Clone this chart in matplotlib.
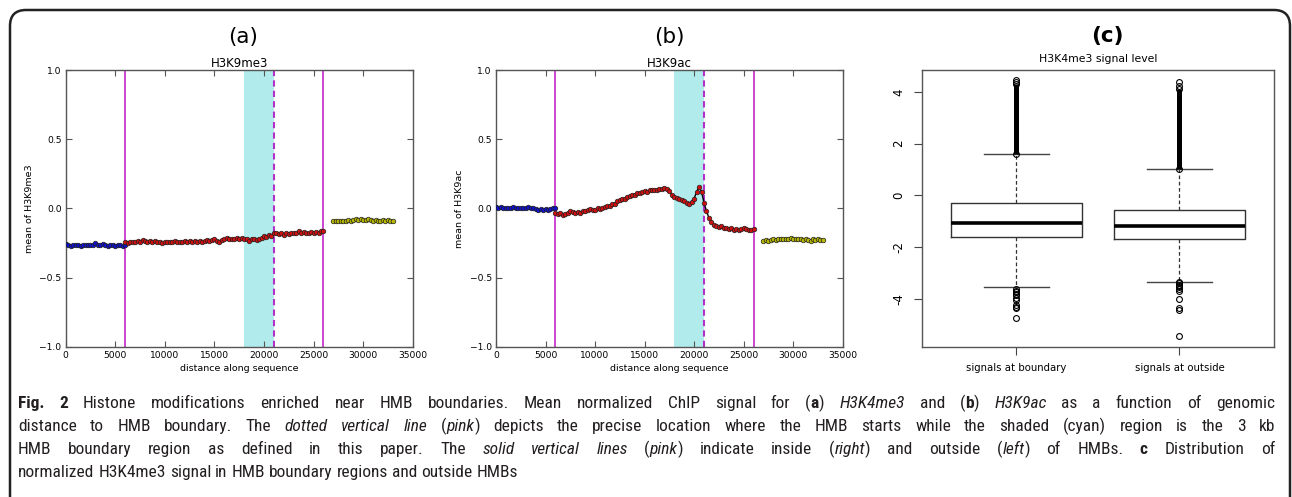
import re
import numpy as np
import matplotlib
matplotlib.use("Agg")
import matplotlib.pyplot as plt
from matplotlib import font_manager as fm
from matplotlib.patches import FancyBboxPatch
from matplotlib.transforms import IdentityTransform

a_blue = [-0.26, -0.265, -0.27, -0.265, -0.268, -0.265, -0.27, -0.265, -0.268, -0.262,
          -0.265, -0.268, -0.252, -0.262, -0.268, -0.26, -0.265, -0.27, -0.265, -0.268,
          -0.27, -0.265, -0.268, -0.272, -0.268]
a_red = [-0.245, -0.25, -0.245, -0.24, -0.245, -0.235, -0.24, -0.23, -0.235, -0.24,
         -0.235, -0.24, -0.235, -0.24, -0.245, -0.25, -0.245, -0.24, -0.245, -0.24,
         -0.235, -0.245, -0.24, -0.245, -0.235, -0.24, -0.235, -0.24, -0.235, -0.24,
         -0.235, -0.24, -0.235, -0.23, -0.235, -0.23, -0.225, -0.235, -0.24, -0.23,
         -0.225, -0.215, -0.225, -0.22, -0.225, -0.215, -0.22, -0.215, -0.22, -0.225,
         -0.235, -0.225, -0.225, -0.23, -0.22, -0.215, -0.20, -0.21, -0.195, -0.20,
         -0.175, -0.18, -0.185, -0.18, -0.19, -0.18, -0.185, -0.175, -0.18, -0.175,
         -0.165, -0.175, -0.17, -0.175, -0.18, -0.17, -0.175, -0.17, -0.175, -0.165,
         -0.165]
a_yel = [-0.095, -0.09, -0.095, -0.09, -0.088, -0.092, -0.085, -0.09, -0.085, -0.08,
         -0.085, -0.08, -0.082, -0.085, -0.08, -0.085, -0.088, -0.085, -0.09, -0.088,
         -0.085, -0.09, -0.085, -0.09, -0.095]

# ---- panel (b) H3K9ac
b_blue = [0.01, 0.005, 0.01, 0.0, 0.005, 0.0, 0.005, 0.01, 0.005, 0.0,
          0.005, 0.0, 0.005, 0.01, 0.005, 0.0, -0.005, -0.01, -0.005, -0.01,
          -0.005, -0.01, -0.005, 0.0, 0.005]
b_red = [-0.035, -0.04, -0.035, -0.045, -0.04, -0.03, -0.02, -0.025, -0.03, -0.025,
         -0.03, -0.02, -0.02, -0.01, -0.005, -0.015, -0.01, 0.0, -0.005, 0.005,
         0.01, 0.02, 0.02, 0.03, 0.035, 0.05, 0.06, 0.07, 0.07, 0.08,
         0.09, 0.095, 0.10, 0.11, 0.11, 0.12, 0.125, 0.12, 0.13, 0.13,
         0.135, 0.13, 0.14, 0.14, 0.145, 0.14, 0.125, 0.10, 0.085, 0.075,
         0.07, 0.06, 0.05, 0.04, 0.035, 0.045, 0.07, 0.12, 0.155, 0.12,
         0.04, -0.02, -0.07, -0.10, -0.12, -0.13, -0.135, -0.13, -0.14, -0.145,
         -0.15, -0.145, -0.155, -0.15, -0.16, -0.15, -0.145, -0.15, -0.155, -0.16,
         -0.15]
b_yel = [-0.235, -0.23, -0.235, -0.23, -0.225, -0.23, -0.225, -0.22, -0.225, -0.22,
         -0.225, -0.215, -0.22, -0.225, -0.22, -0.225, -0.23, -0.225, -0.23, -0.235,
         -0.225, -0.23, -0.225, -0.23, -0.23]

seg_ranges = [(0, 6000), (6000, 26000), (27000, 33000)]
seg_colors = ["#1010c8", "#d01010", "#b8b800"]

# ---- panel (c) box plot summary, H3K4me3 signal level
c_names = ["signals at boundary", "signals at outside"]
c_med = [-1.06, -1.19]
c_q1 = [-1.62, -1.68]
c_q3 = [-0.30, -0.58]
c_whislo = [-3.53, -3.34]
c_whishi = [1.62, 1.04]
# upper outliers are so many that they merge into a solid bar: low/high end of it
c_dense = [(1.62, 4.3), (1.04, 4.12)]
c_out1 = [1.62, 4.3, 4.38, 4.45,
          -3.62, -3.68, -3.74, -3.8, -3.86, -3.95, -4.05, -4.25, -4.3, -4.35, -4.75]
c_out2 = [1.04, 4.12, 4.25, 4.4,
          -3.36, -3.4, -3.45, -3.5, -3.55, -3.6, -3.7, -4.0, -4.35, -4.45, -5.45]

caption = [
    "**Fig. 2** Histone modifications enriched near HMB boundaries. Mean normalized ChIP signal for (**a**) _H3K4me3_ and (**b**) _H3K9ac_ as a function of genomic",
    "distance to HMB boundary. The _dotted vertical line_ (_pink_) depicts the precise location where the HMB starts while the shaded (cyan) region is the 3 kb",
    "HMB boundary region as defined in this paper. The _solid vertical lines_ (_pink_) indicate inside (_right_) and outside (_left_) of HMBs. **c** Distribution of",
    "normalized H3K4me3 signal in HMB boundary regions and outside HMBs",
]

W, H = 1292, 497
fig = plt.figure(figsize=(W / 100, H / 100), dpi=100)
fig.patch.set_facecolor("white")

# rounded frame round the whole figure
frame = FancyBboxPatch((10, -40), 1280, 527, boxstyle="round,pad=0,rounding_size=16",
                       transform=IdentityTransform(), fill=False, ec="#222222", lw=1.8)
fig.patches.append(frame)

MAG = "#cc44d0"


def line_panel(rect, segs, title, ylabel, letter, dx=0):
    ax = fig.add_axes(rect)
    ax.axvspan(18000, 21000, color="#b2ebeb", lw=0, zorder=0)
    for (x0, x1), vals, col in zip(seg_ranges, segs, seg_colors):
        xs = np.linspace(x0, x1, len(vals))
        ax.plot(xs, vals, color="black", lw=1.0, marker="o", ms=3.3, mfc=col,
                mec="#222222", mew=0.5, zorder=3)
    ax.axvline(6000, color=MAG, lw=1.4, zorder=2)
    ax.axvline(26000, color=MAG, lw=1.4, zorder=2)
    ax.axvline(21000, color="#b030c8", lw=1.5, ls=(0, (3, 2)), zorder=2)
    ax.set_xlim(0, 35000)
    ax.set_ylim(-1, 1)
    ax.set_xticks(range(0, 35001, 5000))
    ax.set_yticks([-1.0, -0.5, 0.0, 0.5, 1.0])
    ax.tick_params(direction="in", top=True, right=True, length=4, width=0.8,
                   labelsize=6.6, pad=3, color="#555555")
    for s in ax.spines.values():
        s.set_color("#555555")
        s.set_linewidth(1.0)
    ax.set_title(title, fontsize=8.5, pad=2)
    ax.set_xlabel("distance along sequence", fontsize=6.8, labelpad=3)
    ax.set_ylabel(ylabel, fontsize=6.8, labelpad=4)
    cx = rect[0] + rect[2] / 2 + dx / W
    fig.text(cx, 1 - 37 / H, letter, ha="center", va="center", fontsize=15.5)
    return ax


pa = [65.7 / W, 150.3 / H, 347 / W, 276.7 / H]
pb = [496 / W, 150.3 / H, 346.7 / W, 276.7 / H]
pc = [921.7 / W, 150.3 / H, 352.3 / W, 276.7 / H]

line_panel(pa, [a_blue, a_red, a_yel], "H3K9me3", "mean of H3K9me3", "(a)", dx=4)
line_panel(pb, [b_blue, b_red, b_yel], "H3K9ac", "mean of H3K9ac", "(b)")

# ---- panel (c)
axc = fig.add_axes(pc)
stats = []
for i in range(2):
    stats.append(dict(med=c_med[i], q1=c_q1[i], q3=c_q3[i], whislo=c_whislo[i],
                      whishi=c_whishi[i], fliers=[c_out1, c_out2][i]))
axc.bxp(stats, positions=[1, 2], widths=0.8, capwidths=0.4, showfliers=True,
        boxprops=dict(color="#333333", lw=1.0),
        medianprops=dict(color="black", lw=2.6),
        whiskerprops=dict(color="#333333", lw=0.9, ls=(0, (3, 2))),
        capprops=dict(color="#444444", lw=1.0),
        flierprops=dict(marker="o", ms=4.2, mfc="none", mec="black", mew=0.8))
for pos, (lo, hi) in zip([1, 2], c_dense):
    axc.vlines(pos, lo, hi, color="black", lw=3.6, zorder=3)
axc.set_xlim(0.42, 2.58)
axc.set_ylim(-5.85, 4.85)
axc.set_yticks([-4, -2, 0, 2, 4])
axc.set_yticklabels(["-4", "-2", "0", "2", "4"], rotation=90, va="center")
axc.set_xticks([1, 2])
axc.set_xticklabels(c_names)
axc.tick_params(axis="y", direction="out", length=6, width=0.8, labelsize=8.5, pad=6,
                color="#444444")
axc.tick_params(axis="x", direction="out", length=6, width=0.8, labelsize=7.3, pad=6,
                color="#444444")
for s in axc.spines.values():
    s.set_color("#555555")
    s.set_linewidth(1.0)
axc.set_title("H3K4me3 signal level", fontsize=7.8, pad=6)
fig.text(pc[0] + pc[2] / 2 + 10 / W, 1 - 36 / H, "(c)", ha="center", va="center",
         fontsize=15.5, fontweight="bold")

# ---- caption, fully justified with mixed bold / italic words
names = {f.name for f in fm.fontManager.ttflist}
cap_font = next((n for n in ["Liberation Sans Narrow", "Roboto Condensed",
                             "Open Sans Condensed", "Noto Sans", "DejaVu Sans"]
                 if n in names), "DejaVu Sans")


def parse(line):
    words, bold, ital = [], False, False
    for w in line.split(" "):
        segs = []
        for part in re.split(r"(\*\*|_)", w):
            if part == "**":
                bold = not bold
            elif part == "_":
                ital = not ital
            elif part:
                segs.append((part, bold, ital))
        words.append(segs)
    return words


renderer = fig.canvas.get_renderer()
left, right = 18, 1275
baselines = [408, 431, 454, 477]


def make_caption(fs):
    texts = []
    for li, line in enumerate(caption):
        row = []
        for word in parse(line):
            wt = []
            for txt, b, it in word:
                t = fig.text(0, 0, txt, fontsize=fs, family=cap_font,
                             fontweight="bold" if b else "normal",
                             fontstyle="italic" if it else "normal",
                             va="baseline", ha="left", color="#231f20")
                wt.append(t)
            row.append(wt)
        texts.append(row)
    return texts


def widths(row):
    return [[t.get_window_extent(renderer).width for t in w] for w in row]


fs = 12.5
texts = make_caption(fs)
probe = fig.text(0, 0, "a a", fontsize=fs, family=cap_font)
probe2 = fig.text(0, 0, "aa", fontsize=fs, family=cap_font)
space = probe.get_window_extent(renderer).width - probe2.get_window_extent(renderer).width
natural = sum(sum(w) for w in widths(texts[0])) + space * (len(texts[0]) - 1)
probe.remove()
probe2.remove()
if natural > (right - left) * 0.99:
    for row in texts:
        for w in row:
            for t in w:
                t.remove()
    fs = fs * (right - left) * 0.97 / natural
    space *= (right - left) * 0.97 / natural
    texts = make_caption(fs)

for li, row in enumerate(texts):
    ws = widths(row)
    tot = sum(sum(w) for w in ws)
    gap = space if li == len(texts) - 1 else (right - left - tot) / (len(row) - 1)
    x = left
    for wt, wl in zip(row, ws):
        for t, wd in zip(wt, wl):
            t.set_position((x / W, 1 - baselines[li] / H))
            x += wd
        x += gap

fig.savefig("out.png", dpi=100, facecolor="white")
